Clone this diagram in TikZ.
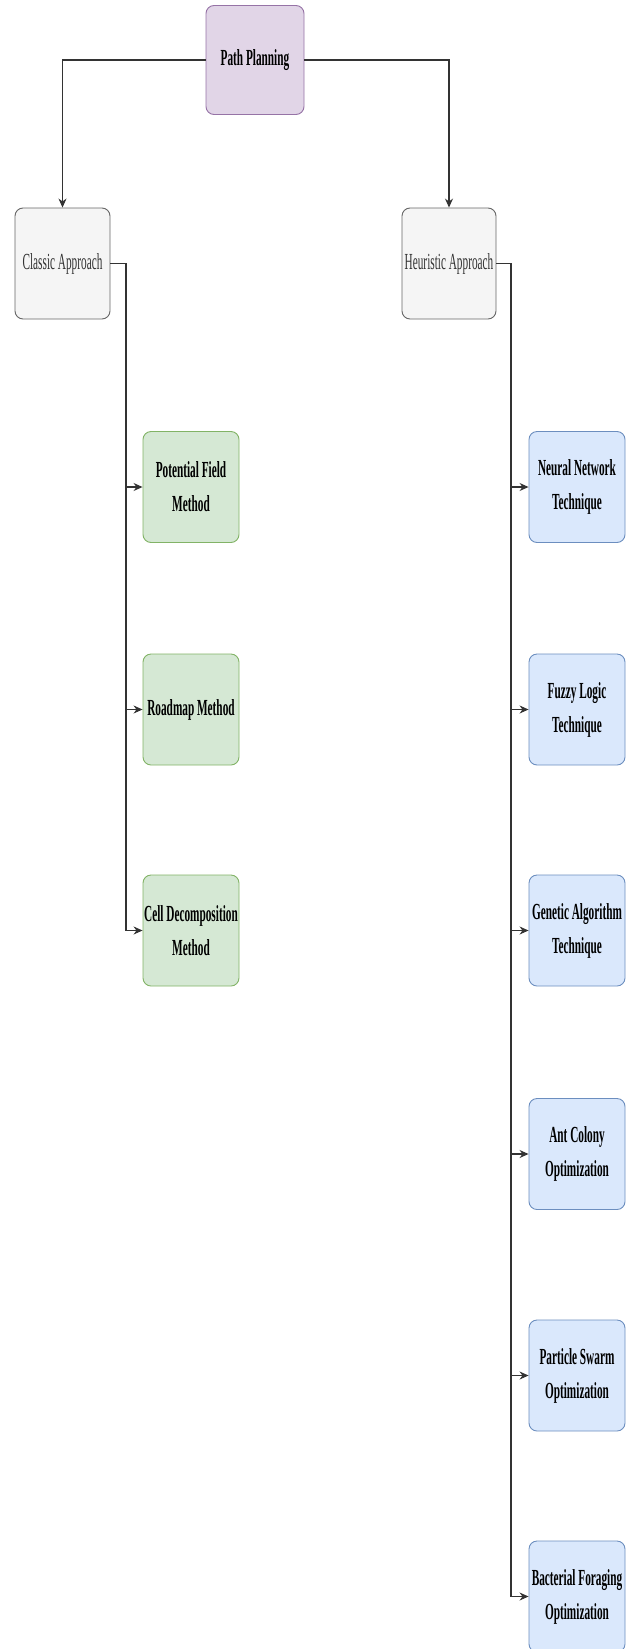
\documentclass[tikz,border=0pt]{standalone}
\usepackage{fontspec}
\setmainfont{Liberation Serif}
\newfontfamily\nf[FakeStretch=0.49]{Liberation Serif}
\usetikzlibrary{arrows.meta}
\definecolor{pfill}{HTML}{E1D5E7}
\definecolor{pline}{HTML}{9673A6}
\definecolor{gfill}{HTML}{D5E8D4}
\definecolor{gline}{HTML}{82B366}
\definecolor{bfill}{HTML}{DAE8FC}
\definecolor{bline}{HTML}{6C8EBF}
\definecolor{cfill}{HTML}{F5F5F5}
\definecolor{cline}{HTML}{666666}
\definecolor{ctext}{HTML}{333333}
\definecolor{conn}{HTML}{333333}
\begin{document}
\begin{tikzpicture}[x=1pt,y=-1pt,
  box/.style={draw, rounded corners=8pt, minimum width=96pt, minimum height=111pt,
    align=center, inner sep=0pt, line width=0.9pt,
    font=\nf\fontsize{23}{34}\selectfont\bfseries},
  pbox/.style={box, fill=pfill, draw=pline, minimum width=98pt, minimum height=109pt},
  cbox/.style={box, fill=cfill, draw=cline, text=ctext, minimum width=95pt,
    font=\nf\fontsize{23}{34}\selectfont},
  gbox/.style={box, fill=gfill, draw=gline},
  bbox/.style={box, fill=bfill, draw=bline},
  arr/.style={draw=conn, line width=1.1pt, -{Stealth[length=9pt,width=8pt]}}]
\useasboundingbox (0,0) rectangle (632,1649);
\node[pbox] (pp) at (255,60) {Path Planning};
\node[cbox] (ca) at (62.5,263.5) {Classic Approach};
\node[cbox, minimum width=94pt] (ha) at (449,263.5) {Heuristic Approach};
\node[gbox] (g1) at (191,487) {Potential Field\\Method};
\node[gbox] (g2) at (191,709.5) {Roadmap Method};
\node[gbox] (g3) at (191,930.5) {Cell Decomposition\\Method};
\node[bbox] (b1) at (577,487) {Neural Network\\Technique};
\node[bbox] (b2) at (577,709.5) {Fuzzy Logic\\Technique};
\node[bbox] (b3) at (577,930.5) {Genetic Algorithm\\Technique};
\node[bbox] (b4) at (577,1154) {Ant Colony\\Optimization};
\node[bbox] (b5) at (577,1375.5) {Particle Swarm\\Optimization};
\node[bbox] (b6) at (577,1596.5) {Bacterial Foraging\\Optimization};
\coordinate (lx) at (126,0);
\coordinate (rx) at (511,0);
\draw[arr] (pp.west) -| (ca.north);
\draw[arr] (pp.east) -| (ha.north);
\foreach \t in {g1,g2,g3}{
  \draw[arr] (ca.east) -- (ca.east -| lx) |- (\t.west);
}
\foreach \t in {b1,b2,b3,b4,b5,b6}{
  \draw[arr] (ha.east) -- (ha.east -| rx) |- (\t.west);
}
\end{tikzpicture}
\end{document}
